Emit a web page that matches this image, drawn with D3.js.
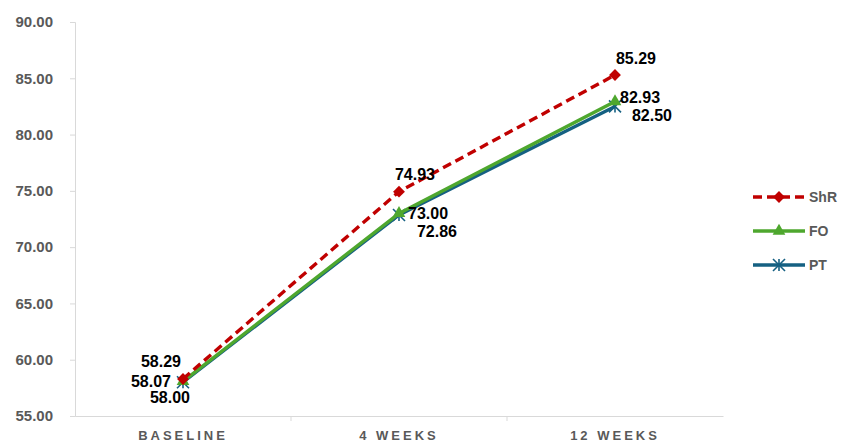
<!DOCTYPE html>
<html>
<head>
<meta charset="utf-8">
<script src="https://cdn.jsdelivr.net/npm/d3@7"></script>
<style>
  body { margin: 0; background: #fff; }
  svg { font-family: "Liberation Sans", Arial, sans-serif; }
</style>
</head>
<body>
<div id="chart"></div>
<script>
// data
var categories = ["BASELINE", "4 WEEKS", "12 WEEKS"];
var shrValues = [58.29, 74.93, 85.29];
var foValues = [58.07, 73.00, 82.93];
var ptValues = [58.00, 72.86, 82.50];
var yTicks = [55, 60, 65, 70, 75, 80, 85, 90];

var series = [
  {name: "ShR", values: shrValues, color: "#c00000", dash: "9,5", marker: "diamond",
   labelDx: [-2, 16, 21], labelDy: [-12, -12, -11], anchor: ["end", "middle", "middle"]},
  {name: "FO", values: foValues, color: "#4ea72e", dash: null, marker: "triangle",
   labelDx: [-12, 9, 5], labelDy: [6, 6, 1], anchor: ["end", "start", "start"]},
  {name: "PT", values: ptValues, color: "#156082", dash: null, marker: "star",
   labelDx: [7, 38, 37], labelDy: [21, 22, 15], anchor: ["end", "middle", "middle"]}
];

var W = 842, H = 444;
var margin = {top: 22, right: 119, bottom: 28, left: 75};
var width = W - margin.left - margin.right,
    height = H - margin.top - margin.bottom;

var svg = d3.select("#chart").append("svg")
    .attr("width", W).attr("height", H);
var g = svg.append("g")
    .attr("transform", "translate(" + margin.left + "," + margin.top + ")");

var x = d3.scaleBand().domain(categories).range([0, width]);
var y = d3.scaleLinear().domain([55, 90]).range([height, 0]);

// y axis
var yAxis = g.append("g")
    .call(d3.axisLeft(y).tickValues(yTicks).tickFormat(d3.format(".2f")).tickSize(5).tickPadding(17));
yAxis.select(".domain").attr("stroke", "#d9d9d9");
yAxis.selectAll(".tick line").attr("stroke", "#d9d9d9");
yAxis.selectAll("text")
    .attr("fill", "#595959")
    .attr("font-size", "15px")
    .attr("font-weight", "bold");

// x axis
var xAxis = g.append("g")
    .attr("transform", "translate(0," + height + ")")
    .call(d3.axisBottom(x).tickSize(0).tickPadding(15));
xAxis.select(".domain").attr("stroke", "#d9d9d9");
xAxis.selectAll("text")
    .attr("fill", "#595959")
    .attr("font-size", "13px")
    .attr("font-weight", "bold")
    .attr("letter-spacing", "3px");
// category boundary ticks
g.append("g").selectAll("line")
    .data(categories.slice(1))
    .enter().append("line")
    .attr("x1", function(d) { return x(d); })
    .attr("x2", function(d) { return x(d); })
    .attr("y1", height).attr("y2", height + 5)
    .attr("stroke", "#d9d9d9");

var line = d3.line()
    .x(function(d, i) { return x(categories[i]) + x.bandwidth() / 2; })
    .y(function(d) { return y(d); });

function drawMarker(sel, s) {
  if (s.marker === "diamond") {
    sel.append("path").attr("d", d3.symbol().type(d3.symbolSquare).size(70)())
      .attr("transform", "rotate(45)").attr("fill", s.color);
  } else if (s.marker === "triangle") {
    sel.append("path").attr("d", d3.symbol().type(d3.symbolTriangle).size(70)())
      .attr("fill", s.color);
  } else {
    var r = 6;
    [[-r, -r, r, r], [-r, r, r, -r], [0, -r, 0, r]].forEach(function(c) {
      sel.append("line")
        .attr("x1", c[0]).attr("y1", c[1]).attr("x2", c[2]).attr("y2", c[3])
        .attr("stroke", s.color).attr("stroke-width", 1.6);
    });
  }
}

// draw lines bottom-up: PT, FO, ShR
series.slice().reverse().forEach(function(s) {
  g.append("path")
    .datum(s.values)
    .attr("d", line)
    .attr("fill", "none")
    .attr("stroke", s.color)
    .attr("stroke-width", 3.4)
    .attr("stroke-dasharray", s.dash);

  var pts = g.append("g").selectAll("g")
    .data(s.values)
    .enter().append("g")
    .attr("transform", function(d, i) {
      return "translate(" + (x(categories[i]) + x.bandwidth() / 2) + "," + y(d) + ")";
    });
  drawMarker(pts, s);
});

// data labels
series.forEach(function(s) {
  g.append("g").selectAll("text")
    .data(s.values)
    .enter().append("text")
    .attr("x", function(d, i) { return x(categories[i]) + x.bandwidth() / 2 + s.labelDx[i]; })
    .attr("y", function(d, i) { return y(d) + s.labelDy[i]; })
    .attr("text-anchor", function(d, i) { return s.anchor[i]; })
    .attr("font-size", "16px")
    .attr("font-weight", "bold")
    .attr("fill", "#000")
    .text(function(d) { return d3.format(".2f")(d); });
});

// legend
var legend = svg.append("g").attr("transform", "translate(753,197)");
series.forEach(function(s, i) {
  var lg = legend.append("g").attr("transform", "translate(0," + (i * 34) + ")");
  lg.append("line")
    .attr("x1", 0).attr("x2", 52).attr("y1", 0).attr("y2", 0)
    .attr("stroke", s.color).attr("stroke-width", 3.4)
    .attr("stroke-dasharray", s.dash);
  var m = lg.append("g").attr("transform", "translate(26,0)");
  drawMarker(m, s);
  lg.append("text")
    .attr("x", 56).attr("y", 5)
    .attr("font-size", "14px")
    .attr("font-weight", "bold")
    .attr("fill", "#595959")
    .text(s.name);
});
</script>
</body>
</html>
